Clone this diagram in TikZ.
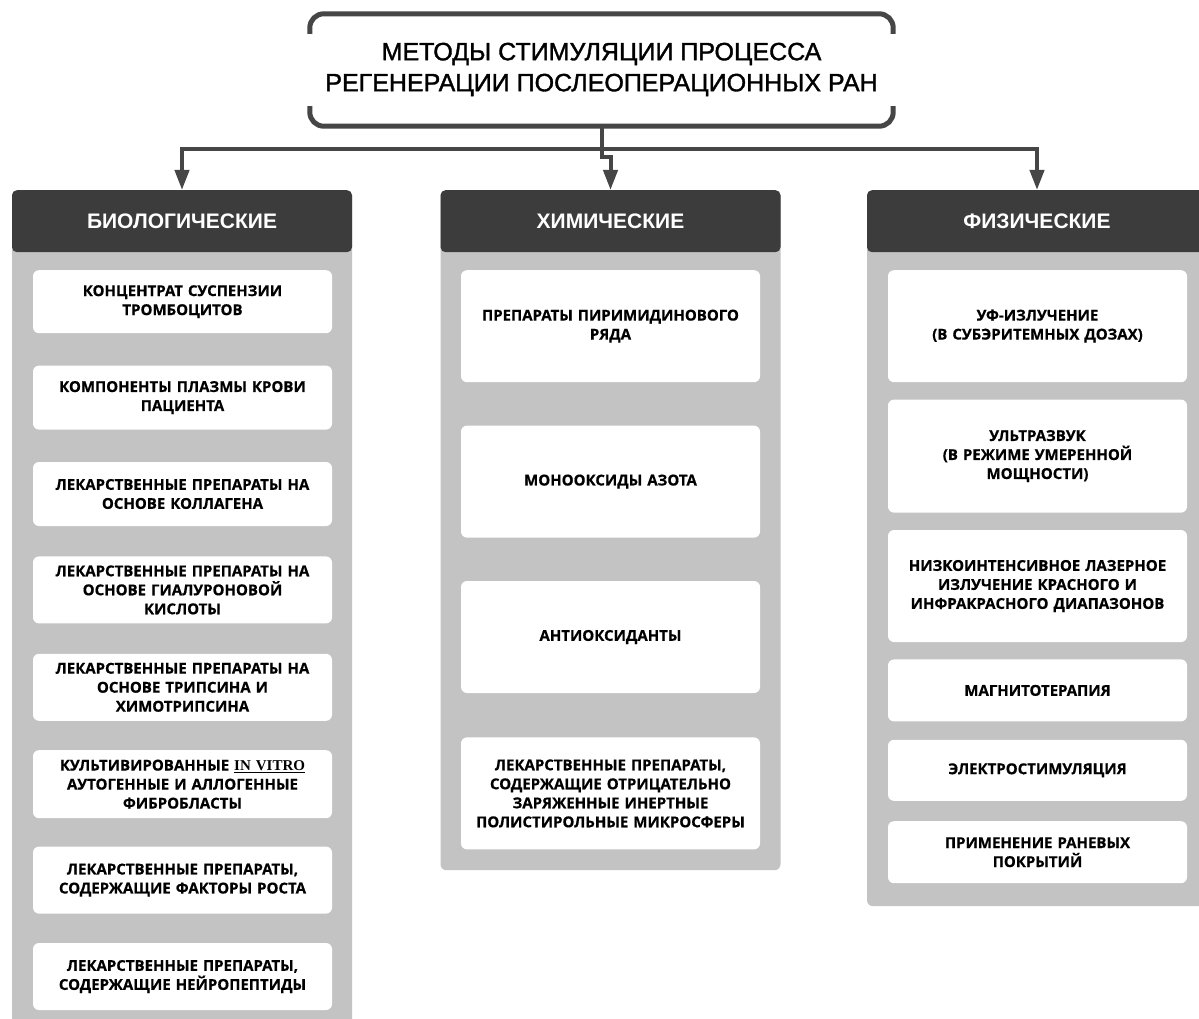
\documentclass[tikz,border=0pt]{standalone}
\usepackage{fontspec}
\setmainfont{Open Sans}[BoldFeatures={FakeBold=0.6}]
\newfontfamily\titlefont{Liberation Sans}[UprightFeatures={FakeBold=1.4}]
\newfontfamily\headfont{Liberation Sans}
\newfontfamily\vitrofont{Liberation Serif}
\usetikzlibrary{arrows.meta, calc, positioning}
\definecolor{hdrgray}{HTML}{3C3C3C}
\definecolor{pangray}{HTML}{C3C3C3}
\definecolor{linegray}{HTML}{464646}
\tikzset{
  % connector style
  conn/.style={
    line width = 4pt
    , draw=linegray
  },
  % dark column header
  colhead/.style={
    fill=hdrgray
    , rounded corners=5pt
    , minimum width=340pt
    , minimum height=62pt
    , anchor=north
    , text=white
    , font=\headfont\bfseries\fontsize{21}{24}\selectfont
  },
  % gray column panel
  colpanel/.style={
    fill=pangray
    , rounded corners=6pt
    , minimum width=340pt
    , anchor=north
  },
  % white method box
  method/.style={
    fill=white
    , rounded corners=6pt
    , minimum width=299pt
    , text width=292pt
    , align=center
    , inner sep=2pt
    , font=\bfseries\fontsize{15}{19}\selectfont
  },
}

\begin{document}
\begin{tikzpicture}[x=1pt, y=-1pt, >={Triangle[length=20pt, width=14pt]}]
  \useasboundingbox[fill=white] (0,0) rectangle (1199,1019);

  % title
  \node[minimum width=583pt, minimum height=112pt
        , align=center, text depth=6pt
        , font=\titlefont\fontsize{25}{31}\selectfont] (title) at (601.5,70)
    {МЕТОДЫ СТИМУЛЯЦИИ ПРОЦЕССА\\РЕГЕНЕРАЦИИ ПОСЛЕОПЕРАЦИОННЫХ РАН};
  \draw[conn, line width=5pt, rounded corners=14pt]
    ([yshift=-20pt]title.north west) |- (title.north) -| ([yshift=-20pt]title.north east);
  \draw[conn, line width=5pt, rounded corners=14pt]
    ([yshift=20pt]title.south west) |- (title.south) -| ([yshift=20pt]title.south east);

  % panels
  \node[colpanel, minimum height=850pt] (panA) at (182,190) {};
  \node[colpanel, minimum height=680pt] (panB) at (610.5,190) {};
  \node[colpanel, minimum height=716pt] (panC) at (1037,190) {};

  % headers
  \node[colhead] (hdrA) at (panA.north) {БИОЛОГИЧЕСКИЕ};
  \node[colhead] (hdrB) at (panB.north) {ХИМИЧЕСКИЕ};
  \node[colhead] (hdrC) at (panC.north) {ФИЗИЧЕСКИЕ};

  % biological
  \node[method, minimum height=63pt, anchor=north] (bio1) at (182.5,270)
    {КОНЦЕНТРАТ СУСПЕНЗИИ\\ТРОМБОЦИТОВ};
  \node[method, minimum height=64pt, below=32pt of bio1] (bio2)
    {КОМПОНЕНТЫ ПЛАЗМЫ КРОВИ\\ПАЦИЕНТА};
  \node[method, minimum height=64pt, below=32pt of bio2] (bio3)
    {ЛЕКАРСТВЕННЫЕ ПРЕПАРАТЫ НА\\ОСНОВЕ КОЛЛАГЕНА};
  \node[method, minimum height=67pt, below=30pt of bio3] (bio4)
    {ЛЕКАРСТВЕННЫЕ ПРЕПАРАТЫ НА\\ОСНОВЕ ГИАЛУРОНОВОЙ\\КИСЛОТЫ};
  \node[method, minimum height=67pt, below=30pt of bio4] (bio5)
    {ЛЕКАРСТВЕННЫЕ ПРЕПАРАТЫ НА\\ОСНОВЕ ТРИПСИНА И\\ХИМОТРИПСИНА};
  \node[method, minimum height=68pt, below=29pt of bio5] (bio6)
    {КУЛЬТИВИРОВАННЫЕ \underline{\vitrofont IN VITRO}\\АУТОГЕННЫЕ И АЛЛОГЕННЫЕ\\ФИБРОБЛАСТЫ};
  \node[method, minimum height=67pt, below=28pt of bio6] (bio7)
    {ЛЕКАРСТВЕННЫЕ ПРЕПАРАТЫ,\\СОДЕРЖАЩИЕ ФАКТОРЫ РОСТА};
  \node[method, minimum height=67pt, below=29pt of bio7] (bio8)
    {ЛЕКАРСТВЕННЫЕ ПРЕПАРАТЫ,\\СОДЕРЖАЩИЕ НЕЙРОПЕПТИДЫ};

  % chemical
  \node[method, minimum height=112pt, anchor=north] (chem1) at (610.5,270)
    {ПРЕПАРАТЫ ПИРИМИДИНОВОГО\\РЯДА};
  \node[method, minimum height=112pt, below=43pt of chem1] (chem2)
    {МОНООКСИДЫ АЗОТА};
  \node[method, minimum height=112pt, below=43pt of chem2] (chem3)
    {АНТИОКСИДАНТЫ};
  \node[method, minimum height=112pt, below=44pt of chem3] (chem4)
    {ЛЕКАРСТВЕННЫЕ ПРЕПАРАТЫ,\\СОДЕРЖАЩИЕ ОТРИЦАТЕЛЬНО\\ЗАРЯЖЕННЫЕ ИНЕРТНЫЕ\\ПОЛИСТИРОЛЬНЫЕ МИКРОСФЕРЫ};

  % physical
  \node[method, minimum height=112pt, anchor=north] (phys1) at (1037.5,270)
    {УФ-ИЗЛУЧЕНИЕ\\(В СУБЭРИТЕМНЫХ ДОЗАХ)};
  \node[method, minimum height=113pt, below=17pt of phys1] (phys2)
    {УЛЬТРАЗВУК\\(В РЕЖИМЕ УМЕРЕННОЙ\\МОЩНОСТИ)};
  \node[method, minimum height=112pt, below=17pt of phys2] (phys3)
    {НИЗКОИНТЕНСИВНОЕ ЛАЗЕРНОЕ\\ИЗЛУЧЕНИЕ КРАСНОГО И\\ИНФРАКРАСНОГО ДИАПАЗОНОВ};
  \node[method, minimum height=62pt, below=17pt of phys3] (phys4)
    {МАГНИТОТЕРАПИЯ};
  \node[method, minimum height=61pt, below=18pt of phys4] (phys5)
    {ЭЛЕКТРОСТИМУЛЯЦИЯ};
  \node[method, minimum height=62pt, below=20pt of phys5] (phys6)
    {ПРИМЕНЕНИЕ РАНЕВЫХ\\ПОКРЫТИЙ};

  % connectors
  \draw[conn] (title.south) -- ++(0,23) coordinate (split);
  \draw[conn, ->] (split) -| (hdrA.north);
  \draw[conn, ->] (split) -| (hdrC.north);
  \draw[conn, ->] (split) -- ++(0,8) -| (hdrB.north);
\end{tikzpicture}
\end{document}
